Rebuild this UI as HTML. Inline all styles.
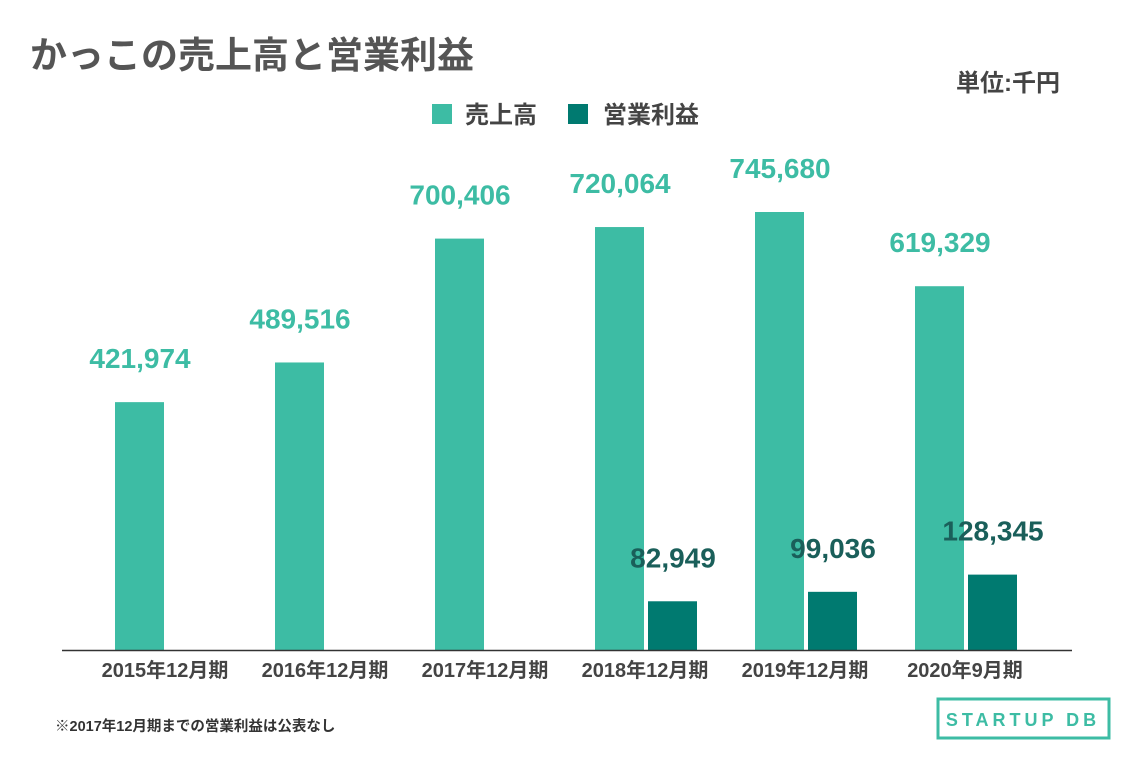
<!DOCTYPE html>
<html><head><meta charset="utf-8"><style>
body{margin:0;width:1132px;height:755px;background:#fff;overflow:hidden;font-family:"Liberation Sans","Noto Sans CJK JP",sans-serif}
</style></head><body>
<svg width="1132" height="755" xmlns="http://www.w3.org/2000/svg" font-family="Liberation Sans, Noto Sans CJK JP, sans-serif">
<text x="30" y="68" font-size="37" font-weight="bold" fill="#555">かっこの売上高と営業利益</text>
<text x="1060" y="91" font-size="24" font-weight="bold" fill="#444" text-anchor="end">単位:千円</text>
<g>
<rect x="432" y="104" width="20" height="20" fill="#3dbca4"/>
<text x="465" y="123" font-size="24" font-weight="bold" fill="#444">売上高</text>
<rect x="568" y="104" width="20" height="20" fill="#007a70"/>
<text x="603" y="123" font-size="24" font-weight="bold" fill="#444">営業利益</text>
</g>
<g id="bars"></g>
<line x1="62" y1="650.5" x2="1072" y2="650.5" stroke="#333" stroke-width="1.5"/>
<text x="55" y="731" font-size="14.5" font-weight="bold" fill="#333">※2017年12月期までの営業利益は公表なし</text>
<g>
<rect x="938" y="699" width="171" height="39" fill="none" stroke="#3dbca4" stroke-width="3"/>
<text x="1023" y="726" font-size="18" font-weight="bold" fill="#3dbca4" text-anchor="middle" letter-spacing="4">STARTUP DB</text>
</g>
</svg>
<script>
const categories=["2015年12月期","2016年12月期","2017年12月期","2018年12月期","2019年12月期","2020年9月期"];
const sales=[421974,489516,700406,720064,745680,619329];
const profit=[null,null,null,82949,99036,128345];
const salesLabels=["421,974","489,516","700,406","720,064","745,680","619,329"];
const profitLabels=[null,null,null,"82,949","99,036","128,345"];
const NS="http://www.w3.org/2000/svg";
const g=document.getElementById('bars');
const base=650, k=438/745680;
function y(v){return base-v*k;}
function cx(i){return 165+i*160;}
function mk(t,a){const e=document.createElementNS(NS,t);for(const n in a)e.setAttribute(n,a[n]);g.appendChild(e);return e;}
categories.forEach((c,i)=>{
  const r=mk('rect',{x:cx(i)-50,y:y(sales[i]),width:49,height:base-y(sales[i]),fill:'#3dbca4'});
  
  
  const t=mk('text',{x:cx(i)-25,y:y(sales[i])-34,'font-size':28,'font-weight':'bold',fill:'#3dbca4','text-anchor':'middle'});
  t.textContent=salesLabels[i];
  
  
  if(profit[i]!=null){
    const p=mk('rect',{x:cx(i)+3,y:y(profit[i]),width:49,height:base-y(profit[i]),fill:'#007a70'});
    
    
    const pt=mk('text',{x:cx(i)+28,y:y(profit[i])-34,'font-size':28,'font-weight':'bold',fill:'#1a5f5a','text-anchor':'middle'});
    pt.textContent=profitLabels[i];
    
    
  }
  const l=mk('text',{x:cx(i),y:677,'font-size':20,'font-weight':'bold',fill:'#444','text-anchor':'middle'});
  l.textContent=c;
  
  
});
</script>
</body></html>
